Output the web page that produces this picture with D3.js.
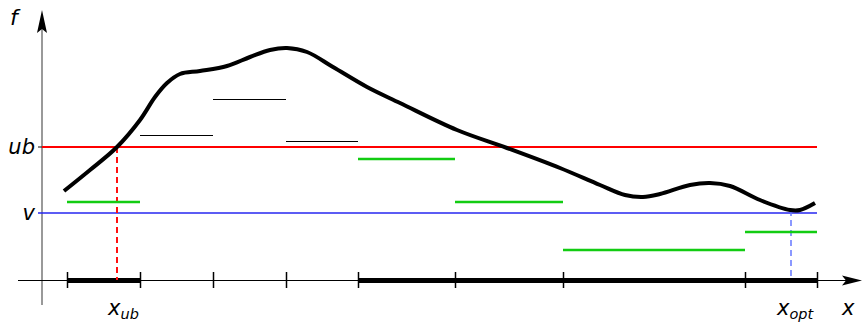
<!DOCTYPE html>
<html><head><meta charset="utf-8">
<script src="https://cdn.jsdelivr.net/npm/d3@7"></script>
<style>body{margin:0;background:#fff}svg{display:block}text{font-family:"DejaVu Sans";font-style:italic}</style>
</head><body>
<svg id="c" width="865" height="324"></svg>
<script>
// ---- data ----
const breakpoints = [25, 98, 171, 244, 316, 413, 521, 703, 775];
const lowerBounds = [78, 145, 181, 139, 121, 78, 30, 48];
const keptIntervals = [[25, 98], [316, 775]];
const curveX = [22, 48, 75, 98, 113, 125, 138, 158, 185, 208, 228, 245, 265, 291, 325, 358, 415, 465, 518, 558, 583, 601, 618, 648, 668, 688, 718, 748, 758, 773];
const curveF = [89, 110, 133, 160, 183, 197, 206, 209, 214, 223, 230, 232, 228, 213, 193, 177, 150, 132, 112, 95, 85, 83, 86, 95, 97, 94, 80, 70, 70, 77];
const ub = 133, v = 67, xUb = 75, xOpt = 749;
const yLabels = [{t:"ub", val:ub}, {t:"v", val:v}];

// ---- scales ----
const x = d3.scaleLinear().domain([0, 820]).range([42, 862]);
const y = d3.scaleLinear().domain([0, 270]).range([280, 10]);
const svg = d3.select("#c");

// axes
svg.append("line").attr("x1", 42).attr("x2", 42).attr("y1", 305).attr("y2", 22)
  .attr("stroke", "#777").attr("stroke-width", 1.5);
svg.append("path").attr("d", "M42,10 L47,33 L42,29 L37,33 Z").attr("fill", "#000");

const xAxis = d3.axisBottom(x).tickValues(breakpoints).tickFormat("").tickSizeOuter(0).tickSizeInner(8);
const gx = svg.append("g").attr("transform", `translate(0,${y(0)})`).call(xAxis);
gx.select(".domain").remove();
gx.selectAll(".tick line").attr("y1", -8).attr("y2", 8).attr("stroke", "#000").attr("stroke-width", 1.5);
svg.append("line").attr("x1", 18).attr("x2", 850).attr("y1", y(0) + 0.5).attr("y2", y(0) + 0.5).attr("stroke", "#000").attr("stroke-width", 1);
svg.append("path").attr("d", `M862,${y(0)+0.5} L842,${y(0)-4.5} L846,${y(0)+0.5} L842,${y(0)+5.5} Z`).attr("fill", "#000");

// thick kept intervals
svg.selectAll(".kept").data(keptIntervals).enter().append("line")
  .attr("x1", d => x(d[0])).attr("x2", d => x(d[1])).attr("y1", y(0) + 0.5).attr("y2", y(0) + 0.5)
  .attr("stroke", "#000").attr("stroke-width", 5);

// ub and v lines
svg.append("line").attr("x1", 38).attr("x2", 42).attr("y1", y(ub)).attr("y2", y(ub)).attr("stroke", "#333").attr("stroke-width", 1.2);
svg.append("line").attr("x1", 42).attr("x2", x(breakpoints[8])).attr("y1", y(ub)).attr("y2", y(ub)).attr("stroke", "#ff0000").attr("stroke-width", 2);
svg.append("line").attr("x1", 38).attr("x2", x(breakpoints[8])).attr("y1", y(v)).attr("y2", y(v)).attr("stroke", "#2626f0").attr("stroke-width", 1.4);

// dashed verticals
svg.append("line").attr("x1", x(xUb)).attr("x2", x(xUb)).attr("y1", y(ub)).attr("y2", y(0))
  .attr("stroke", "#ff1010").attr("stroke-width", 2).attr("stroke-dasharray", "6,4");
svg.append("line").attr("x1", x(xOpt)).attr("x2", x(xOpt)).attr("y1", y(70)).attr("y2", y(0))
  .attr("stroke", "#6677ff").attr("stroke-width", 1.5).attr("stroke-dasharray", "6,4");

// lower bound segments
const segs = lowerBounds.map((b, i) => ({x0: breakpoints[i], x1: breakpoints[i+1], b}));
svg.selectAll(".lb").data(segs).enter().append("line")
  .attr("x1", d => x(d.x0)).attr("x2", d => x(d.x1))
  .attr("y1", d => y(d.b) + (d.b < ub ? 0 : 0.5)).attr("y2", d => y(d.b) + (d.b < ub ? 0 : 0.5))
  .attr("stroke", d => d.b < ub ? "#12cc12" : "#000")
  .attr("stroke-width", d => d.b < ub ? 2.4 : 1);

// curve
const pts = curveX.map((cx, i) => [cx, curveF[i]]);
svg.append("path").datum(pts)
  .attr("d", d3.line().x(d => x(d[0])).y(d => y(d[1])).curve(d3.curveCatmullRom.alpha(0.5)))
  .attr("fill", "none").attr("stroke", "#000").attr("stroke-width", 4).attr("stroke-linecap", "butt");

// labels
svg.append("text").attr("x", 10).attr("y", 25).attr("font-size", 22).text("f");
svg.selectAll(".yl").data(yLabels).enter().append("text")
  .attr("x", 35).attr("y", d => y(d.val) + 7).attr("text-anchor", "end").attr("font-size", 21).text(d => d.t);
function sublabel(px, main, sub) {
  const t = svg.append("text").attr("x", px).attr("y", 315).attr("font-size", 21);
  t.append("tspan").text(main);
  t.append("tspan").attr("dy", 4).attr("font-size", 14.5).text(sub);
}
sublabel(x(xUb) - 9, "x", "ub");
sublabel(x(xOpt) - 14, "x", "opt");
svg.append("text").attr("x", 842).attr("y", 315).attr("font-size", 21).text("x");
</script>
</body></html>
